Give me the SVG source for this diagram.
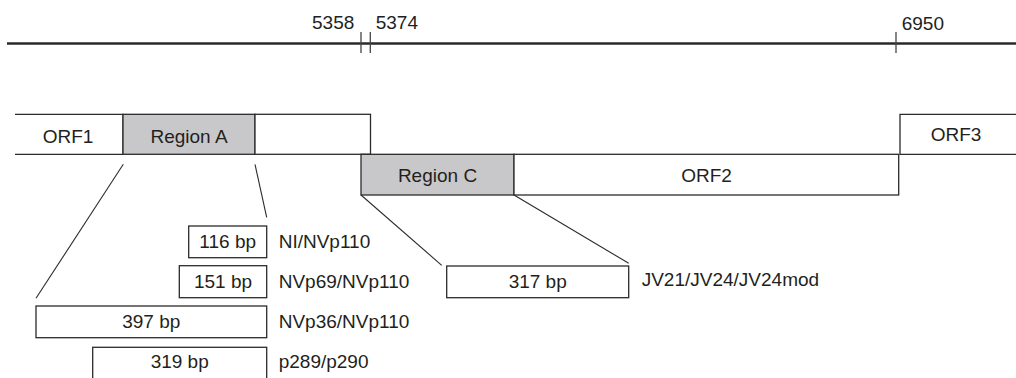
<svg xmlns="http://www.w3.org/2000/svg" width="1016" height="378" viewBox="0 0 1016 378">
<style>
text{font-family:"Liberation Sans",Arial,Helvetica,sans-serif;font-size:19px;fill:#231f20}
.c{text-anchor:middle}
.box{fill:#fff;stroke:#2b2b2b;stroke-width:1.3}
.reg{fill:#c8c8ca;stroke:#2b2b2b;stroke-width:1.3}
.open{fill:#fff;stroke:#2b2b2b;stroke-width:1.3}
.tick{stroke:#444;stroke-width:1.3}
.conn{stroke:#2b2b2b;stroke-width:1.1;fill:none}
</style>
<rect width="1016" height="378" fill="#fff"/>
<g id="axis">
<line x1="7" y1="43.5" x2="1016" y2="43.5" stroke="#2a2a2a" stroke-width="2.6"/>
<line class="tick" x1="361" y1="32" x2="361" y2="53"/>
<line class="tick" x1="370.3" y1="32" x2="370.3" y2="53"/>
<line class="tick" x1="896" y1="32" x2="896" y2="53"/>
<text x="312" y="29.3">5358</text>
<text x="375.7" y="29.3">5374</text>
<text x="901.7" y="30">6950</text>
</g>
<g id="orf1">
<path class="open" d="M15,114.3 H123 V154.3 H15"/>
<text class="c" x="68" y="142.5">ORF1</text>
</g>
<g id="regionA">
<rect class="reg" x="123" y="114.3" width="132" height="40"/>
<text class="c" x="189" y="142.5">Region A</text>
</g>
<g id="orf1tail">
<rect class="box" x="255" y="114.3" width="115.5" height="40"/>
</g>
<g id="orf3">
<path class="open" d="M1020,114.3 H900 V154.3 H1020"/>
<text class="c" x="956" y="141.2">ORF3</text>
</g>
<g id="regionC">
<rect class="reg" x="361" y="154.3" width="153" height="40.7"/>
<text class="c" x="437.5" y="182">Region C</text>
</g>
<g id="orf2">
<rect class="box" x="514" y="154.3" width="384.7" height="40.7"/>
<text class="c" x="706.5" y="182">ORF2</text>
</g>
<g id="connectors">
<line class="conn" x1="123.3" y1="164.3" x2="36" y2="298.3"/>
<line class="conn" x1="255" y1="164.3" x2="266.7" y2="217.3"/>
<line class="conn" x1="361" y1="195" x2="441.7" y2="265.3"/>
<line class="conn" x1="514" y1="195" x2="628.7" y2="263.3"/>
</g>
<g id="p116">
<rect class="box" x="188.7" y="226" width="78" height="31.7"/>
<text class="c" x="227.7" y="248.3">116 bp</text>
<text x="278.7" y="248.3">NI/NVp110</text>
</g>
<g id="p151">
<rect class="box" x="179.3" y="265.7" width="87.4" height="32"/>
<text class="c" x="223" y="288.3">151 bp</text>
<text x="278.7" y="288.3">NVp69/NVp110</text>
</g>
<g id="p397">
<rect class="box" x="36" y="306" width="230.7" height="31.7"/>
<text class="c" x="151.3" y="328.3">397 bp</text>
<text x="278.7" y="328.3">NVp36/NVp110</text>
</g>
<g id="p319">
<rect class="box" x="92.7" y="347.3" width="174" height="45"/>
<text class="c" x="179.7" y="368.3">319 bp</text>
<text x="278.7" y="368.3">p289/p290</text>
</g>
<g id="p317">
<rect class="box" x="446.7" y="266" width="182" height="31.7"/>
<text class="c" x="537.7" y="288.3">317 bp</text>
<text x="641.7" y="286">JV21/JV24/JV24mod</text>
</g>
</svg>
